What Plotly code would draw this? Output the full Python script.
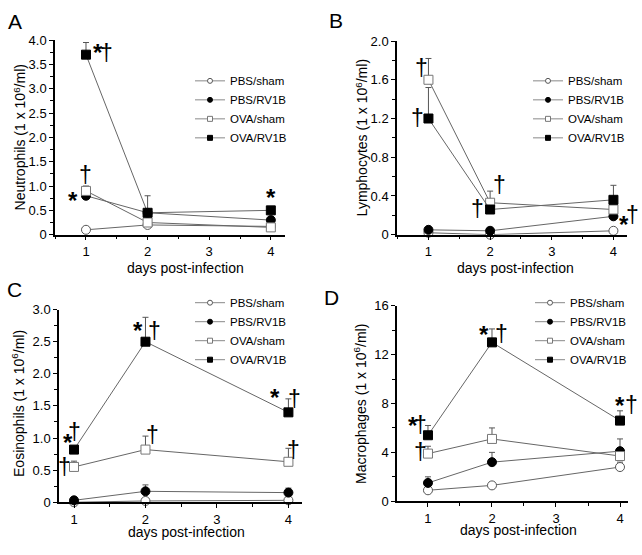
import plotly.graph_objects as go

W, H = 642, 555
FONT = "Liberation Sans, Arial, sans-serif"

days = [1, 2, 4]
series_names = ["PBS/sham", "PBS/RV1B", "OVA/sham", "OVA/RV1B"]

# Panel A: Neutrophils (1 x 10^6/ml)
neut_pbs_sham = [0.10, 0.20, 0.17]
neut_pbs_rv1b = [0.80, 0.45, 0.30]
neut_ova_sham = [0.90, 0.25, 0.15]
neut_ova_rv1b = [3.70, 0.45, 0.50]
neut_err_pbs_sham = [0.02, 0.04, 0.02]
neut_err_pbs_rv1b = [0.04, 0.05, 0.04]
neut_err_ova_sham = [0.10, 0.04, 0.03]
neut_err_ova_rv1b = [0.25, 0.35, 0.07]

# Panel B: Lymphocytes (1 x 10^6/ml)
lymph_pbs_sham = [0.02, 0.00, 0.04]
lymph_pbs_rv1b = [0.05, 0.04, 0.19]
lymph_ova_sham = [1.60, 0.33, 0.26]
lymph_ova_rv1b = [1.20, 0.26, 0.36]
lymph_err_pbs_sham = [0.01, 0.01, 0.01]
lymph_err_pbs_rv1b = [0.01, 0.01, 0.02]
lymph_err_ova_sham = [0.22, 0.12, 0.02]
lymph_err_ova_rv1b = [0.32, 0.02, 0.15]

# Panel C: Eosinophils (1 x 10^6/ml)
eos_pbs_sham = [0.00, 0.02, 0.03]
eos_pbs_rv1b = [0.03, 0.17, 0.15]
eos_ova_sham = [0.55, 0.82, 0.63]
eos_ova_rv1b = [0.82, 2.50, 1.40]
eos_err_pbs_sham = [0.01, 0.02, 0.02]
eos_err_pbs_rv1b = [0.01, 0.10, 0.07]
eos_err_ova_sham = [0.09, 0.21, 0.21]
eos_err_ova_rv1b = [0.03, 0.38, 0.21]

# Panel D: Macrophages (1 x 10^6/ml)
mac_pbs_sham = [0.9, 1.3, 2.8]
mac_pbs_rv1b = [1.5, 3.2, 4.1]
mac_ova_sham = [3.9, 5.1, 3.7]
mac_ova_rv1b = [5.4, 13.0, 6.6]
mac_err_pbs_sham = [0.1, 0.1, 0.4]
mac_err_pbs_rv1b = [0.5, 0.8, 1.0]
mac_err_ova_sham = [0.6, 0.9, 0.3]
mac_err_ova_rv1b = [0.8, 1.1, 0.8]

# tick labels
neut_ticks = [0, 0.5, 1.0, 1.5, 2.0, 2.5, 3.0, 3.5, 4.0]
neut_ticktext = ["0", "0.5", "1.0", "1.5", "2.0", "2.5", "3.0", "3.5", "4.0"]
lymph_ticks = [0, 0.4, 0.8, 1.2, 1.6, 2.0]
lymph_ticktext = ["0", "0.4", "0.8", "1.2", "1.6", "2.0"]
eos_ticks = [0, 0.5, 1.0, 1.5, 2.0, 2.5, 3.0]
eos_ticktext = ["0", "0.5", "1.0", "1.5", "2.0", "2.5", "3.0"]
mac_ticks = [0, 4, 8, 12, 16]
mac_ticktext = ["0", "4", "8", "12", "16"]
day_ticks = [1, 2, 3, 4]

# significance marks: (x, y, symbol, pixel shift right)
neut_marks = [(1.2, 3.86, "*", 0), (1.34, 3.74, "†", 0), (1.0, 1.22, "†", 0), (0.79, 0.82, "*", 0),
              (4.0, 0.88, "*", 0)]
lymph_marks = [(0.88, 1.72, "†", 0), (0.83, 1.21, "†", 0), (2.16, 0.51, "†", 0), (1.79, 0.27, "†", 0),
               (4.17, 0.17, "*", 0), (4.21, 0.20, "†", 6)]
eos_marks = [(0.92, 1.02, "*", 0), (1.01, 1.09, "†", 0), (0.86, 0.55, "†", 0), (1.89, 2.77, "*", 0),
             (2.12, 2.67, "†", 0), (2.10, 1.05, "†", 0), (3.81, 1.73, "*", 0), (4.09, 1.60, "†", 0),
             (4.07, 0.82, "†", 0)]
mac_marks = [(0.77, 6.7, "*", 0), (0.88, 6.24, "†", 0), (0.88, 4.0, "†", 0), (1.87, 14.1, "*", 0),
             (2.15, 13.7, "†", 0), (4.0, 8.3, "*", 0), (4.12, 7.84, "†", 4)]

styles = [
    dict(symbol="circle", color="white", line=dict(color="#555555", width=1)),
    dict(symbol="circle", color="black", line=dict(color="black", width=1)),
    dict(symbol="square", color="white", line=dict(color="#777777", width=1)),
    dict(symbol="square", color="black", line=dict(color="black", width=1)),
]

panels = [
    dict(vals=[neut_pbs_sham, neut_pbs_rv1b, neut_ova_sham, neut_ova_rv1b],
         errs=[neut_err_pbs_sham, neut_err_pbs_rv1b, neut_err_ova_sham, neut_err_ova_rv1b],
         ticks=neut_ticks, ticktext=neut_ticktext, yrange=[0, 4.0], ydtick_minor=0.25,
         xpx=(55, 285), ypx=(234, 34), xrange=[0.497, 4.23], marks=neut_marks,
         ytitle="Neutrophils (1 x 10<sup>6</sup>/ml)", ytitle_pos=(20, 134), xtitle_pos=(186, 268),
         letter="A", letter_pos=(15, 15), legend_pos=(190, 61)),
    dict(vals=[lymph_pbs_sham, lymph_pbs_rv1b, lymph_ova_sham, lymph_ova_rv1b],
         errs=[lymph_err_pbs_sham, lymph_err_pbs_rv1b, lymph_err_ova_sham, lymph_err_ova_rv1b],
         ticks=lymph_ticks, ticktext=lymph_ticktext, yrange=[0, 2.0], ydtick_minor=0.2,
         xpx=(397, 627), ypx=(234, 35), xrange=[0.49, 4.22], marks=lymph_marks,
         ytitle="Lymphocytes (1 x 10<sup>6</sup>/ml)", ytitle_pos=(362, 134), xtitle_pos=(515, 268),
         letter="B", letter_pos=(336, 14), legend_pos=(528, 61)),
    dict(vals=[eos_pbs_sham, eos_pbs_rv1b, eos_ova_sham, eos_ova_rv1b],
         errs=[eos_err_pbs_sham, eos_err_pbs_rv1b, eos_err_ova_sham, eos_err_ova_rv1b],
         ticks=eos_ticks, ticktext=eos_ticktext, yrange=[0, 3.0], ydtick_minor=0.25,
         xpx=(59, 302), ypx=(509, 311), xrange=[0.79, 4.19], marks=eos_marks,
         ytitle="Eosinophils (1 x 10<sup>6</sup>/ml)", ytitle_pos=(18, 408), xtitle_pos=(187, 540),
         letter="C", letter_pos=(14, 290), legend_pos=(190, 289)),
    dict(vals=[mac_pbs_sham, mac_pbs_rv1b, mac_ova_sham, mac_ova_rv1b],
         errs=[mac_err_pbs_sham, mac_err_pbs_rv1b, mac_err_ova_sham, mac_err_ova_rv1b],
         ticks=mac_ticks, ticktext=mac_ticktext, yrange=[0, 16], ydtick_minor=2,
         xpx=(397, 628), ypx=(508, 307), xrange=[0.516, 4.125], marks=mac_marks,
         ytitle="Macrophages (1 x 10<sup>6</sup>/ml)", ytitle_pos=(360, 408), xtitle_pos=(518, 538),
         letter="D", letter_pos=(331, 299), legend_pos=(530, 289)),
]

fig = go.Figure()
layout = dict(width=W, height=H, margin=dict(l=0, r=0, t=0, b=0),
              paper_bgcolor="white", plot_bgcolor="white",
              font=dict(family=FONT, size=13, color="black"), showlegend=True)
annotations = []

for i, p in enumerate(panels):
    n = "" if i == 0 else str(i + 1)
    xa, ya = "x" + n, "y" + n
    legend_name = "legend" + n
    for k in range(4):
        fig.add_trace(go.Scatter(
            x=days, y=p["vals"][k], xaxis=xa, yaxis=ya, mode="lines+markers",
            line=dict(color="#666666", width=1),
            marker=dict(size=9, symbol=styles[k]["symbol"], color=styles[k]["color"], line=styles[k]["line"]),
            error_y=dict(type="data", array=p["errs"][k], arrayminus=[0] * 3, symmetric=False,
                         color="#555555", thickness=1, width=3),
            showlegend=False, cliponaxis=False, name=series_names[k]))
    for k in range(4):
        fig.add_trace(go.Scatter(
            x=[None], y=[None], xaxis=xa, yaxis=ya, mode="lines+markers",
            line=dict(color="#888888", width=1),
            marker=dict(size=5, symbol=styles[k]["symbol"], color=styles[k]["color"], line=styles[k]["line"]),
            name=series_names[k], legend=legend_name, showlegend=True))
    x0, x1 = p["xpx"]
    yb, yt = p["ypx"]
    axcommon = dict(showline=True, linecolor="black", linewidth=1.5, ticks="outside", ticklen=4,
                    tickwidth=1.2, tickcolor="black", showgrid=False, zeroline=False,
                    tickfont=dict(family=FONT, size=13, color="black"))
    layout["xaxis" + n] = dict(axcommon, domain=[x0 / W, x1 / W], range=p["xrange"], anchor=ya,
                               tickvals=day_ticks, ticktext=[str(d) for d in day_ticks],
                               minor=dict(dtick=0.5, tick0=0, ticks="outside", ticklen=3, tickcolor="black", tickwidth=1))
    layout["yaxis" + n] = dict(axcommon, domain=[1 - yb / H, 1 - yt / H], range=p["yrange"], anchor=xa,
                               tickvals=p["ticks"], ticktext=p["ticktext"],
                               minor=dict(dtick=p["ydtick_minor"], tick0=0, ticks="outside", ticklen=3,
                                          tickcolor="black", tickwidth=1))
    lx, ly = p["legend_pos"]
    layout[legend_name] = dict(x=lx / W, y=1 - ly / H, xanchor="left", yanchor="top",
                               bgcolor="rgba(0,0,0,0)", font=dict(family=FONT, size=11.5, color="black"),
                               itemwidth=30, tracegroupgap=0)
    for (mx, my, s, dx) in p["marks"]:
        if s == "*":
            annotations.append(dict(x=mx, y=my, xref=xa, yref=ya, text="<b>*</b>", showarrow=False,
                                    font=dict(family=FONT, size=24, color="black"), yshift=-6, xshift=dx))
        else:
            annotations.append(dict(x=mx, y=my, xref=xa, yref=ya, text="†", showarrow=False,
                                    font=dict(family=FONT, size=23, color="black"), xshift=dx))
    tx, ty = p["ytitle_pos"]
    annotations.append(dict(x=tx / W, y=1 - ty / H, xref="paper", yref="paper", text=p["ytitle"],
                            textangle=-90, showarrow=False, font=dict(family=FONT, size=14, color="black"),
                            xanchor="center", yanchor="middle"))
    tx, ty = p["xtitle_pos"]
    annotations.append(dict(x=tx / W, y=1 - ty / H, xref="paper", yref="paper", text="days post-infection",
                            showarrow=False, font=dict(family=FONT, size=14, color="black"),
                            xanchor="center", yanchor="middle"))
    tx, ty = p["letter_pos"]
    annotations.append(dict(x=tx / W, y=1 - ty / H, xref="paper", yref="paper", text=p["letter"],
                            showarrow=False, font=dict(family=FONT, size=21, color="black"),
                            xanchor="center", yanchor="middle"))

layout["annotations"] = annotations
fig.update_layout(**layout)
fig.write_html("out.html", config={"displayModeBar": False},
               post_script="document.body.style.margin='0px';")
